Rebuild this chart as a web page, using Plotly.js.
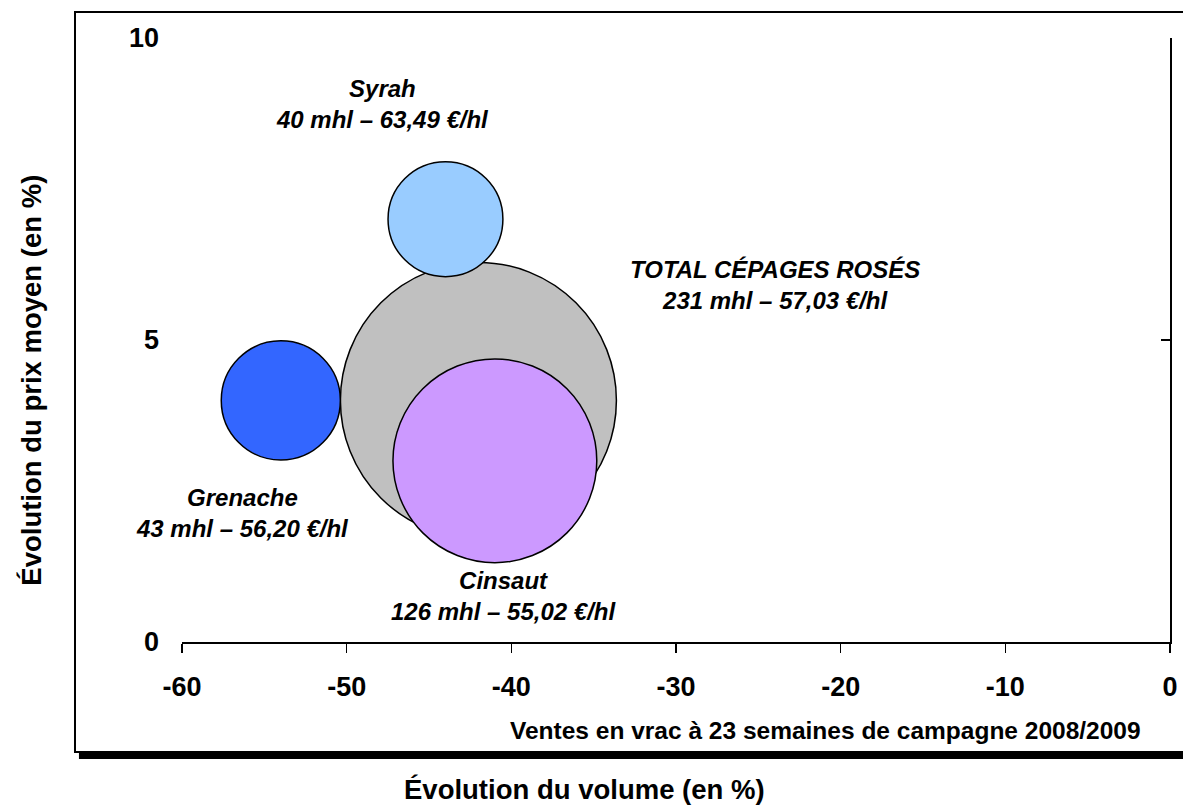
<!DOCTYPE html>
<html>
<head>
<meta charset="utf-8">
<script src="https://cdn.plot.ly/plotly-3.0.1.min.js"></script>
<style>
html,body{margin:0;padding:0;background:#fff;}
#chart{width:1183px;height:807px;}
</style>
</head>
<body>
<div id="chart"></div>
<script>
// Data (draw order: total first, then the grape varieties)
const names   = ["TOTAL CÉPAGES ROSÉS", "Grenache", "Syrah", "Cinsaut"];
const volEvol = [-42, -54, -44, -41];      // Évolution du volume (en %)
const prixEvol = [4.0, 4.0, 7.0, 3.0];     // Évolution du prix moyen (en %)
const volumes = [231, 43, 40, 126];        // mhl
const prices  = [57.03, 56.20, 63.49, 55.02]; // €/hl
const colors  = ["#C0C0C0", "#3366FF", "#99CCFF", "#CC99FF"];
const xTicks = [-60, -50, -40, -30, -20, -10, 0];
const yTicks = [0, 5, 10];

const FONT = "Liberation Sans, Arial, Helvetica, sans-serif";

function fmt(p){ return p.toFixed(2).replace('.', ','); }
const labels = names.map((n,i) => "<b><i>" + n + "<br>" + volumes[i] + " mhl – " + fmt(prices[i]) + " €/hl</i></b>");

const trace = {
  type: "scatter",
  mode: "markers",
  x: volEvol,
  y: prixEvol,
  text: names,
  hoverinfo: "skip",
  cliponaxis: false,
  marker: {
    size: volumes,
    sizemode: "area",
    sizeref: 2 * 231 / (276 * 276),
    color: colors,
    opacity: 1,
    line: { color: "#000000", width: 1.5 }
  },
  showlegend: false
};
// invisible trace to activate right axis
const trace2 = {
  type: "scatter", mode: "markers", x: [-60], y: [0], yaxis: "y2",
  marker: {opacity: 0}, hoverinfo: "skip", showlegend: false
};

// label positions in data coords (same order as names)
const labPos = [[-24.0, 5.91], [-56.3, 2.13], [-47.85, 8.90], [-40.5, 0.76]];

const annotations = labels.map((t,i) => ({
  x: labPos[i][0], y: labPos[i][1], xref: "x", yref: "y",
  text: t, showarrow: false, xanchor: "center", yanchor: "middle",
  font: { family: FONT, size: 24, color: "#000" }
}));

annotations.push({
  x: 0.651, y: -0.1457, xref: "paper", yref: "paper",
  text: "<b>Ventes en vrac à 23 semaines de campagne 2008/2009</b>",
  showarrow: false, xanchor: "center", yanchor: "middle",
  font: { family: FONT, size: 24.5, color: "#000" }
});
annotations.push({
  x: 0.407, y: -0.2445, xref: "paper", yref: "paper",
  text: "<b>Évolution du volume (en %)</b>",
  showarrow: false, xanchor: "center", yanchor: "middle",
  font: { family: FONT, size: 27.5, color: "#000" }
});
annotations.push({
  x: -0.152, y: 0.434, xref: "paper", yref: "paper",
  text: "<b>Évolution du prix moyen (en %)</b>", textangle: -90,
  showarrow: false, xanchor: "center", yanchor: "middle",
  font: { family: FONT, size: 27.5, color: "#000" }
});

const shapes = [
  // frame
  { type: "rect", xref: "paper", yref: "paper", x0: -0.1083, x1: 1.03, y0: -0.1821, y1: 1.043,
    line: { color: "#000", width: 2 }, fillcolor: "rgba(0,0,0,0)", layer: "below" },
  // frame shadow
  { type: "rect", xref: "paper", yref: "paper", x0: -0.1043, x1: 1.03, y0: -0.1937, y1: -0.1838,
    line: { width: 0 }, fillcolor: "#000", layer: "below" }
];

const layout = {
  width: 1183, height: 807,
  margin: { l: 182, r: 13, t: 38, b: 165, pad: 0 },
  paper_bgcolor: "#fff", plot_bgcolor: "#fff",
  font: { family: FONT, color: "#000" },
  xaxis: {
    range: [-60, 0], tickvals: xTicks, ticktext: xTicks.map(String),
    showgrid: false, zeroline: false,
    showline: true, linecolor: "#000", linewidth: 1.5,
    ticks: "outside", ticklen: 9, tickwidth: 1.5, tickcolor: "#000",
    tickfont: { family: FONT, size: 27, color: "#000", weight: "bold" },
    ticklabelstandoff: 11,
    fixedrange: true
  },
  yaxis: {
    range: [0, 10], tickvals: yTicks, ticktext: yTicks.map(String),
    showgrid: false, zeroline: false, showline: false, ticks: "",
    tickfont: { family: FONT, size: 27, color: "#000", weight: "bold" },
    ticklabelstandoff: 22,
    fixedrange: true
  },
  yaxis2: {
    range: [0, 10], tickvals: yTicks, overlaying: "y", side: "right",
    showgrid: false, zeroline: false, showline: true, linecolor: "#000", linewidth: 2,
    ticks: "inside", ticklen: 9, tickwidth: 2, tickcolor: "#000",
    showticklabels: false, fixedrange: true
  },
  annotations: annotations,
  shapes: shapes,
  showlegend: false,
  hovermode: false
};

Plotly.newPlot("chart", [trace, trace2], layout, { displayModeBar: false, staticPlot: true });
</script>
</body>
</html>
